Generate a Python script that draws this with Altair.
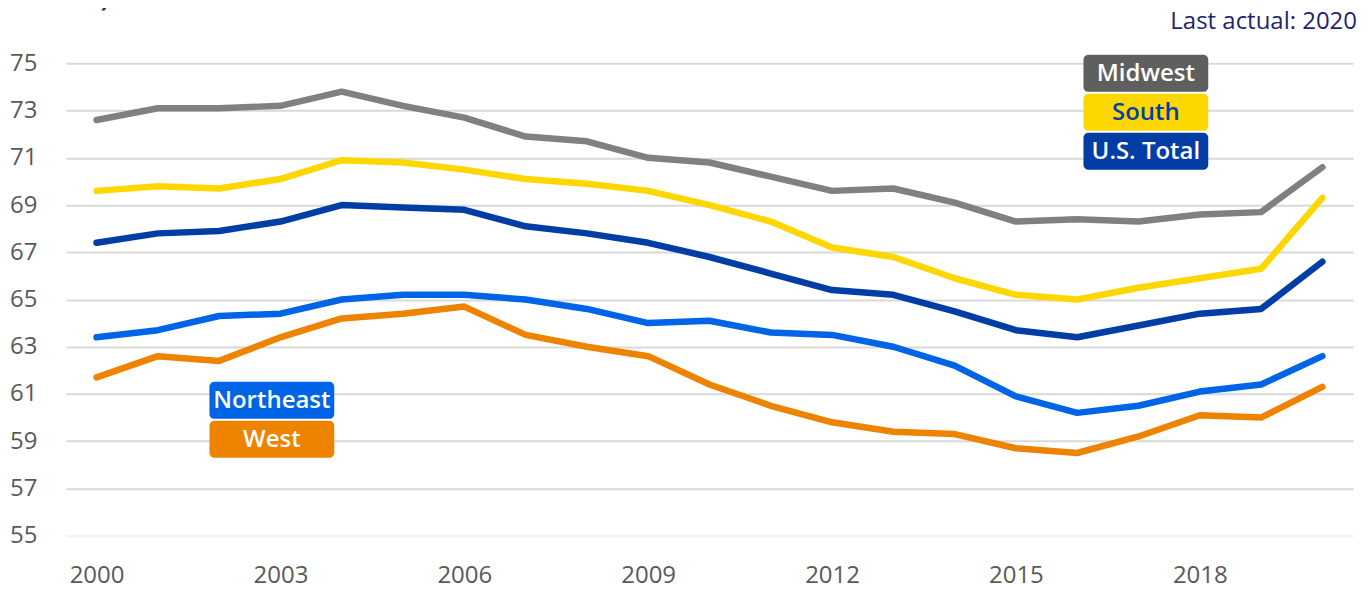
import altair as alt
import pandas as pd

years = list(range(2000, 2021))
midwest = [72.6, 73.1, 73.1, 73.2, 73.8, 73.2, 72.7, 71.9, 71.7, 71.0, 70.8, 70.2, 69.6, 69.7, 69.1, 68.3, 68.4, 68.3, 68.6, 68.7, 70.6]
south = [69.6, 69.8, 69.7, 70.1, 70.9, 70.8, 70.5, 70.1, 69.9, 69.6, 69.0, 68.3, 67.2, 66.8, 65.9, 65.2, 65.0, 65.5, 65.9, 66.3, 69.3]
us_total = [67.4, 67.8, 67.9, 68.3, 69.0, 68.9, 68.8, 68.1, 67.8, 67.4, 66.8, 66.1, 65.4, 65.2, 64.5, 63.7, 63.4, 63.9, 64.4, 64.6, 66.6]
northeast = [63.4, 63.7, 64.3, 64.4, 65.0, 65.2, 65.2, 65.0, 64.6, 64.0, 64.1, 63.6, 63.5, 63.0, 62.2, 60.9, 60.2, 60.5, 61.1, 61.4, 62.6]
west = [61.7, 62.6, 62.4, 63.4, 64.2, 64.4, 64.7, 63.5, 63.0, 62.6, 61.4, 60.5, 59.8, 59.4, 59.3, 58.7, 58.5, 59.2, 60.1, 60.0, 61.3]

series_names = ["Midwest", "South", "U.S. Total", "Northeast", "West"]
series_values = [midwest, south, us_total, northeast, west]
y_ticks = [55, 57, 59, 61, 63, 65, 67, 69, 71, 73, 75]
x_ticks = [2000, 2003, 2006, 2009, 2012, 2015, 2018]

line_colors = ["#808080", "#FFD700", "#003DA5", "#0064E6", "#EE8300"]
box_colors = ["#5F5F5F", "#FFD700", "#003DA5", "#0064E6", "#EE8300"]
text_colors = ["#FFFFFF", "#0041A8", "#FFFFFF", "#FFFFFF", "#FFFFFF"]

rows = []
for name, vals in zip(series_names, series_values):
    for yr, v in zip(years, vals):
        rows.append({"year": yr, "value": v, "series": name})
df = pd.DataFrame(rows)

# annotation label anchors (year, value)
label_x = [2017.12, 2017.12, 2017.12, 2002.86, 2002.86]
label_y = [74.577, 72.928, 71.279, 60.73, 59.08]
labels = pd.DataFrame({
    "series": series_names,
    "lx": label_x,
    "ly": label_y,
    "box": box_colors,
    "tc": text_colors,
})

FONT = "Open Sans"
xscale = alt.Scale(domain=[1999.5, 2020.5], nice=False, zero=False)
yscale = alt.Scale(domain=[55, 75], nice=False, zero=False)

lines = alt.Chart(df).mark_line(strokeWidth=6.5, strokeCap="round", strokeJoin="round").encode(
    x=alt.X("year:Q", scale=xscale, axis=alt.Axis(
        values=x_ticks, format="d", title=None, grid=False, ticks=False,
        labelFontSize=24, labelColor="#595959", labelFont=FONT, labelPadding=28,
        domainColor="#F2F2F2", domainWidth=2)),
    y=alt.Y("value:Q", scale=yscale, axis=alt.Axis(
        values=y_ticks, title=None, domain=False, ticks=False,
        labelFontSize=24, labelColor="#595959", labelFont=FONT, labelPadding=29,
        gridColor={"condition": {"test": "datum.value == 55", "value": "#F4F4F4"}, "value": "#D9D9D9"},
        gridWidth=2)),
    color=alt.Color("series:N", scale=alt.Scale(domain=series_names, range=line_colors), legend=None),
    detail="series:N",
)

boxes = alt.Chart(labels).transform_calculate(
    x1="datum.lx - 1.018", x2="datum.lx + 1.018",
    y1="datum.ly - 0.785", y2="datum.ly + 0.785",
).mark_rect(cornerRadius=5).encode(
    x=alt.X("x1:Q", scale=xscale),
    x2="x2:Q",
    y=alt.Y("y1:Q", scale=yscale),
    y2="y2:Q",
    color=alt.Color("box:N", scale=None),
)

box_text = alt.Chart(labels).mark_text(
    font=FONT, fontSize=24, fontWeight=600, align="center", baseline="middle", dy=1
).encode(
    x=alt.X("lx:Q", scale=xscale),
    y=alt.Y("ly:Q", scale=yscale),
    text="series:N",
    color=alt.Color("tc:N", scale=None),
)

last_actual = alt.Chart(pd.DataFrame({"t": ["Last actual: 2020"]})).mark_text(
    font=FONT, fontSize=24, color="#1F2470", align="right", baseline="middle"
).encode(x=alt.value(1293), y=alt.value(-41), text="t:N")

percent = alt.Chart(pd.DataFrame({"t": ["(Percent)"]})).mark_text(
    font=FONT, fontSize=24, fontWeight="bold", color="#1F2470", align="left", baseline="alphabetic"
).encode(x=alt.value(-66), y=alt.value(-56), text="t:N")

chart = alt.layer(lines, boxes, box_text, last_actual, percent).properties(
    width=1289, height=473,
    autosize=alt.AutoSizeParams(type="none"),
    padding={"left": 58, "top": 55, "right": 10, "bottom": 54},
).configure_view(stroke=None)

chart.save("out.html", embed_options={"renderer": "svg", "actions": False})
